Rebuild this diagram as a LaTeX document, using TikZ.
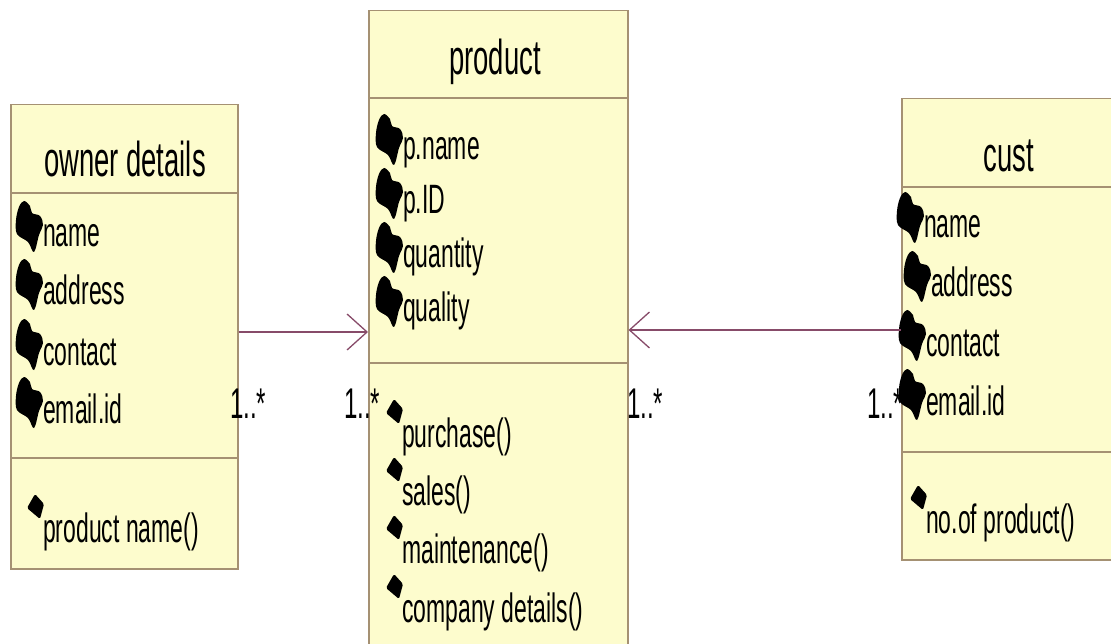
\documentclass[tikz,border=0pt]{standalone}
\usepackage{fontspec}
\setmainfont{Liberation Sans}
\newfontfamily\umlfont[FakeStretch=0.56]{Liberation Sans}
\usetikzlibrary{arrows.meta}

\definecolor{classfill}{RGB}{253,252,205}
\definecolor{classline}{RGB}{165,145,115}
\definecolor{assoc}{RGB}{135,75,105}

\tikzset{
  classbox/.style={draw=classline, fill=classfill, line width=1.5pt, inner sep=0pt, anchor=north west},
  divider/.style={draw=classline, line width=1.5pt},
  classtitle/.style={anchor=base, inner sep=0pt, font=\umlfont\fontsize{49}{49}\selectfont},
  member/.style={anchor=base west, inner sep=0pt, font=\umlfont\fontsize{41}{41}\selectfont},
  mult/.style={anchor=base west, inner sep=0pt, font=\umlfont\fontsize{43}{43}\selectfont},
  assocline/.style={draw=assoc, line width=1.3pt, -{Straight Barb[length=20pt,width=36pt]}},
}

% attribute marker: irregular black blob left of the text
\newcommand{\attrmark}[1]{%
  \fill[shift={(#1.base west)}] plot[smooth cycle, tension=0.6] coordinates
    {(-19,-46) (-13,-41) (-11,-34) (-3,-31) (0,-22) (-4,-12) (-9,5) (-15,-5) (-26,-13) (-27,-27) (-24,-40)};}
% operation marker: small black diamond
\newcommand{\opmark}[1]{%
  \fill[shift={(#1.base west)}, rounded corners=1.5pt] (-8,-48) -- (1,-38) -- (-3,-23) -- (-16,-34) -- cycle;}

\begin{document}
\begin{tikzpicture}[x=1pt, y=-1pt]
\useasboundingbox (0,0) rectangle (1111,644);
\fill[white] (0,0) rectangle (1111,644);
\clip (0,0) rectangle (1111,644);

% ---- class boxes ----
\node[classbox, minimum width=227pt, minimum height=464pt] (owner) at (10,104) {};
\node[classbox, minimum width=259pt, minimum height=680pt] (product) at (368,10) {};
\node[classbox, minimum width=216pt, minimum height=461pt] (cust) at (901,98) {};

% compartments
\draw[divider] (owner.west |- 0,193) -- (owner.east |- 0,193);
\draw[divider] (owner.west |- 0,458) -- (owner.east |- 0,458);
\draw[divider] (product.west |- 0,98) -- (product.east |- 0,98);
\draw[divider] (product.west |- 0,363) -- (product.east |- 0,363);
\draw[divider] (cust.west |- 0,187) -- (cust.east |- 0,187);
\draw[divider] (cust.west |- 0,452) -- (cust.east |- 0,452);

% titles
\node[classtitle] (ownerT) at (125,177) {owner details};
\node[classtitle] (productT) at (495,75) {product};
\node[classtitle] (custT) at (1009,172) {cust};

% ---- owner details members ----
\node[member] (o1) at (43,247) {name};
\node[member] (o2) at (43,305) {address};
\node[member] (o3) at (43,365) {contact};
\node[member] (o4) at (43,423) {email.id};
\node[member] (o5) at (43,542) {product name()};
\attrmark{o1}\attrmark{o2}\attrmark{o3}\attrmark{o4}
\opmark{o5}

% ---- product members ----
\node[member] (p1) at (403,160) {p.name};
\node[member] (p2) at (403,214) {p.ID};
\node[member] (p3) at (403,268) {quantity};
\node[member] (p4) at (403,322) {quality};
\node[member] (p5) at (402,447) {purchase()};
\node[member] (p6) at (402,505) {sales()};
\node[member] (p7) at (402,563) {maintenance()};
\node[member] (p8) at (402,622) {company details()};
\attrmark{p1}\attrmark{p2}\attrmark{p3}\attrmark{p4}
\opmark{p5}\opmark{p6}\opmark{p7}\opmark{p8}

% ---- cust members ----
\node[member] (c1) at (924,238) {name};
\node[member] (c2) at (931,297) {address};
\node[member] (c3) at (926,356) {contact};
\node[member] (c4) at (926,415) {email.id};
\node[member] (c5) at (926,533) {no.of product()};
\attrmark{c1}\attrmark{c2}\attrmark{c3}\attrmark{c4}
\opmark{c5}

% ---- associations ----
\draw[assocline] (owner.east |- 0,332) -- (product.west |- 0,332);
\draw[assocline] (cust.west |- 0,330) -- (product.east |- 0,330);

% multiplicities
\node[mult] (m1) at (230,418) {1..*};
\node[mult] (m2) at (344,418) {1..*};
\node[mult] (m3) at (627,418) {1..*};
\node[mult] (m4) at (867,418) {1..*};
\end{tikzpicture}
\end{document}
